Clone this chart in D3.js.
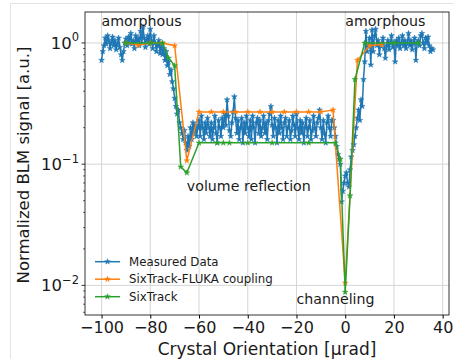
<!DOCTYPE html>
<html>
<head>
<meta charset="utf-8">
<script src="https://cdn.jsdelivr.net/npm/d3@7"></script>
<style>
body { margin: 0; background: #fff; }
text { font-family: "DejaVu Sans", sans-serif; fill: #1a1a1a; }
</style>
</head>
<body>
<svg id="chart" width="454" height="359"></svg>
<script>
// measured scan, one reading every 0.5 urad from -100 to 36
var measuredX = d3.range(-100, 36.001, 0.5);
var measuredY = [
  0.72, 0.85, 0.95, 1.1, 0.98, 1.15, 1.05, 0.9, 1.0, 1.12,
  0.95, 1.05, 0.88, 0.98, 1.1, 0.92, 0.8, 0.72, 0.85, 1.0,
  1.08, 0.95, 1.12, 1.0, 1.2, 0.98, 1.05, 0.9, 1.15, 1.02,
  1.1, 0.95, 1.25, 1.0, 1.35, 1.1, 0.92, 1.05, 1.15, 0.98,
  1.3, 1.05, 0.9, 1.15, 1.0, 0.85, 0.95, 1.05, 0.82, 0.95,
  0.8, 0.9, 0.72, 0.85, 0.65, 0.7, 0.55, 0.6, 0.48, 0.42,
  0.35, 0.3, 0.26, 0.28, 0.22, 0.2, 0.18, 0.16, 0.19, 0.15,
  0.13, 0.17, 0.14, 0.2, 0.16, 0.22, 0.18, 0.21, 0.17, 0.2,
  0.23, 0.17, 0.25, 0.2, 0.16, 0.22, 0.18, 0.24, 0.2, 0.17,
  0.22, 0.16, 0.2, 0.25, 0.18, 0.15, 0.23, 0.2, 0.17, 0.24,
  0.2, 0.26, 0.21, 0.34, 0.25, 0.19, 0.17, 0.22, 0.27, 0.36,
  0.24, 0.18, 0.23, 0.16, 0.2, 0.24, 0.15, 0.22, 0.18, 0.25,
  0.2, 0.17, 0.23, 0.16, 0.25, 0.2, 0.15, 0.22, 0.24, 0.18,
  0.23, 0.17, 0.2, 0.25, 0.18, 0.22, 0.16, 0.23, 0.26, 0.3,
  0.21, 0.17, 0.24, 0.2, 0.15, 0.23, 0.18, 0.25, 0.2, 0.16,
  0.22, 0.24, 0.17, 0.2, 0.23, 0.16, 0.19, 0.25, 0.21, 0.17,
  0.26, 0.2, 0.16, 0.23, 0.18, 0.22, 0.15, 0.2, 0.24, 0.17,
  0.2, 0.23, 0.16, 0.19, 0.25, 0.2, 0.17, 0.22, 0.24, 0.28,
  0.2, 0.16, 0.23, 0.18, 0.15, 0.22, 0.25, 0.2, 0.17, 0.23,
  0.23, 0.2, 0.17, 0.14, 0.12, 0.11, 0.1, 0.049, 0.06, 0.07,
  0.08, 0.085, 0.07, 0.065, 0.09, 0.115, 0.13, 0.145, 0.17, 0.2,
  0.24, 0.28, 0.23, 0.34, 0.3, 0.5, 0.7, 1.25, 0.85, 0.95,
  1.1, 0.66, 1.28, 0.85, 1.15, 1.3, 0.95, 1.05, 0.8, 0.95,
  1.0, 1.1, 0.9, 0.75, 0.95, 1.05, 0.88, 1.0, 1.15, 0.92,
  1.0, 0.7, 1.05, 0.95, 1.1, 0.9, 1.0, 1.15, 0.95, 1.05,
  0.9, 1.0, 1.2, 0.95, 1.05, 0.88, 1.0, 1.1, 0.72, 1.0,
  1.05, 0.95, 1.15, 1.2, 1.0, 0.9, 1.1, 1.0, 1.12, 0.95,
  0.85, 0.9, 0.88
];

var flukaX = [-90, -85, -80, -75, -70, -65, -60, -55, -50, -45, -40, -35, -30, -25, -20, -15, -10, -5, 0, 5, 10, 15];
var flukaY = [1.0, 0.96, 1.0, 1.0, 0.95, 0.107, 0.27, 0.27, 0.27, 0.27, 0.27, 0.27, 0.27, 0.27, 0.27, 0.27, 0.27, 0.28, 0.0105, 0.72, 0.95, 0.97];

var sixX = [-90, -80, -75, -72.5, -70, -67.5, -65, -60, -52.5, -50, -47.5, -40, -30, -15, -4, -2, 0, 2, 4, 8, 20, 30];
var sixY = [1.0, 1.0, 1.0, 0.75, 0.65, 0.095, 0.085, 0.15, 0.15, 0.15, 0.15, 0.15, 0.15, 0.15, 0.15, 0.11, 0.0088, 0.055, 0.5, 1.0, 1.0, 1.0];

var xTicks = [-100, -80, -60, -40, -20, 0, 20, 40];
var yTicks = [1, 0.1, 0.01];
var yTickExp = ["0", "\u22121", "\u22122"];

var seriesNames = ["Measured Data", "SixTrack-FLUKA coupling", "SixTrack"];
var seriesColors = ["#1f77b4", "#ff7f0e", "#2ca02c"];

var notes = [
  { label: "amorphous", x: -100, y: 1.39 },
  { label: "amorphous", x: 0, y: 1.39 },
  { label: "volume reflection", x: -65, y: 0.0598 },
  { label: "channeling", x: -20, y: 0.00697 }
];

var margin = { left: 85, right: 5, top: 12, bottom: 44 };
var W = 454, H = 359;

var svg = d3.select("#chart");

// faint frame around the figure
svg.append("line").attr("x1", 10).attr("x2", W).attr("y1", 3.5).attr("y2", 3.5)
  .attr("stroke", "#e4e4e4");
svg.append("line").attr("x1", 10.5).attr("x2", 10.5).attr("y1", 3).attr("y2", H)
  .attr("stroke", "#e4e4e4");

var x = d3.scaleLinear()
  .domain([-106.8, 42.6])
  .range([margin.left, W - margin.right]);

var y = d3.scaleLog()
  .domain([0.0057, 1.8])
  .range([H - margin.bottom, margin.top]);

var plotW = W - margin.right - margin.left;
var plotH = H - margin.bottom - margin.top;

svg.append("clipPath").attr("id", "clip")
  .append("rect")
  .attr("x", margin.left).attr("y", margin.top)
  .attr("width", plotW).attr("height", plotH);

// grid
svg.append("g").selectAll("line").data(xTicks).enter().append("line")
  .attr("x1", function(d){ return x(d) }).attr("x2", function(d){ return x(d) })
  .attr("y1", margin.top).attr("y2", H - margin.bottom)
  .attr("stroke", "#d0d0d0").attr("stroke-width", 0.9);
svg.append("g").selectAll("line").data(yTicks).enter().append("line")
  .attr("y1", function(d){ return y(d) }).attr("y2", function(d){ return y(d) })
  .attr("x1", margin.left).attr("x2", W - margin.right)
  .attr("stroke", "#d0d0d0").attr("stroke-width", 0.9);

// series
var star = d3.symbol().type(d3.symbolStar).size(10);
var seriesData = [
  d3.zip(measuredX, measuredY),
  d3.zip(flukaX, flukaY),
  d3.zip(sixX, sixY)
];
var line = d3.line()
  .x(function(d){ return x(d[0]) })
  .y(function(d){ return y(d[1]) });

var plot = svg.append("g").attr("clip-path", "url(#clip)");
seriesData.forEach(function(pts, i){
  plot.append("path")
    .datum(pts)
    .attr("d", line)
    .attr("fill", "none")
    .attr("stroke", seriesColors[i])
    .attr("stroke-width", 1.5)
    .attr("stroke-linejoin", "round");
  plot.selectAll(".mk" + i)
    .data(pts).enter().append("path")
    .attr("class", "mk" + i)
    .attr("d", star)
    .attr("transform", function(d){ return "translate(" + x(d[0]) + "," + y(d[1]) + ")" })
    .attr("fill", seriesColors[i])
    .attr("stroke", seriesColors[i])
    .attr("stroke-width", 0.5);
});

// axes
var xAxis = d3.axisBottom(x).tickValues(xTicks).tickSize(3.5).tickPadding(3)
  .tickFormat(function(d){ return d < 0 ? "\u2212" + Math.abs(d) : d });
var gx = svg.append("g")
  .attr("transform", "translate(0," + (H - margin.bottom) + ")")
  .call(xAxis);
gx.select(".domain").remove();
gx.selectAll("text").attr("font-size", "16px").attr("fill", "#1a1a1a")
  .attr("font-family", "DejaVu Sans");

var yMinor = [];
[0.001, 0.01, 0.1, 1].forEach(function(dec){
  for (var k = 2; k <= 9; k++) {
    var v = dec * k;
    if (v >= 0.0057 && v <= 1.8) yMinor.push(v);
  }
});
svg.append("g").selectAll("line").data(yMinor).enter().append("line")
  .attr("x1", margin.left - 2).attr("x2", margin.left)
  .attr("y1", function(d){ return y(d) }).attr("y2", function(d){ return y(d) })
  .attr("stroke", "#000").attr("stroke-width", 0.6);
svg.append("g").selectAll("line").data(yTicks).enter().append("line")
  .attr("x1", margin.left - 3.5).attr("x2", margin.left)
  .attr("y1", function(d){ return y(d) }).attr("y2", function(d){ return y(d) })
  .attr("stroke", "#000").attr("stroke-width", 0.8);

var yLab = svg.append("g").selectAll("text").data(yTicks).enter().append("text")
  .attr("x", margin.left - 6)
  .attr("y", function(d){ return y(d) + 6 })
  .attr("text-anchor", "end")
  .attr("font-size", "16.5px");
yLab.append("tspan").text("10");
yLab.append("tspan")
  .attr("dy", -7.5)
  .attr("font-size", "11.5px")
  .text(function(d, i){ return yTickExp[i] });

// frame
svg.append("rect")
  .attr("x", margin.left).attr("y", margin.top)
  .attr("width", plotW).attr("height", plotH)
  .attr("fill", "none").attr("stroke", "#000").attr("stroke-width", 0.8);

// labels
svg.append("text")
  .attr("x", (margin.left + W - margin.right) / 2)
  .attr("y", 355)
  .attr("text-anchor", "middle")
  .attr("font-size", "17px")
  .text("Crystal Orientation [\u03bcrad]");

svg.append("text")
  .attr("transform", "translate(29," + 165 + ") rotate(-90)")
  .attr("text-anchor", "middle")
  .attr("font-size", "16.5px")
  .text("Normalized BLM signal [a.u.]");

// annotations
svg.append("g").selectAll("text").data(notes).enter().append("text")
  .attr("x", function(d){ return x(d.x) })
  .attr("y", function(d){ return y(d.y) })
  .attr("font-size", "14.2px")
  .text(function(d){ return d.label });

// legend, no frame
var legend = svg.append("g").selectAll("g").data(seriesNames).enter().append("g")
  .attr("transform", function(d, i){ return "translate(95," + (261.7 + i * 17.5) + ")" });
legend.append("line")
  .attr("x1", 0).attr("x2", 25).attr("y1", 0).attr("y2", 0)
  .attr("stroke", function(d, i){ return seriesColors[i] })
  .attr("stroke-width", 1.5);
legend.append("path")
  .attr("d", star)
  .attr("transform", "translate(12.5,0)")
  .attr("fill", function(d, i){ return seriesColors[i] })
  .attr("stroke", function(d, i){ return seriesColors[i] })
  .attr("stroke-width", 0.5);
legend.append("text")
  .attr("x", 34).attr("y", 4.2)
  .attr("font-size", "11.8px")
  .text(function(d){ return d });
</script>
</body>
</html>
